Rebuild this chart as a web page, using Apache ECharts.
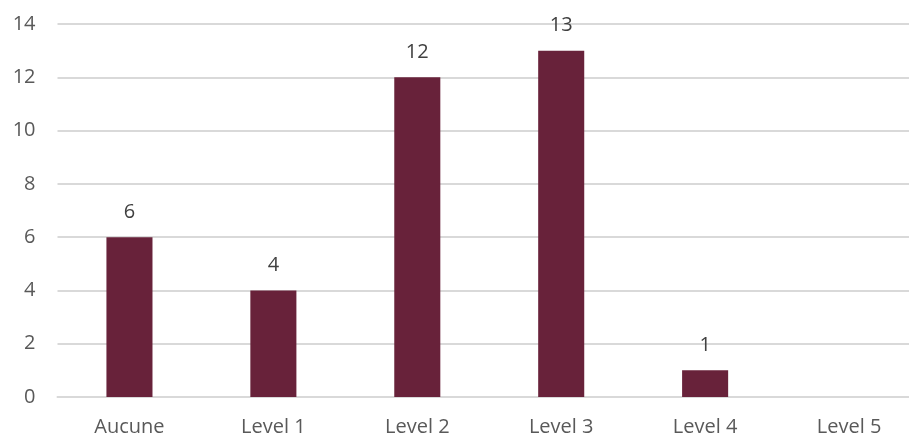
<!DOCTYPE html>
<html><head><meta charset="utf-8">
<script src="https://cdn.jsdelivr.net/npm/echarts@6/dist/echarts.min.js"></script>
<style>html,body{margin:0;padding:0;background:#fff;overflow:hidden;width:909px;height:440px}#c{width:921px;height:440px}</style>
</head><body><div id="c"></div>
<script>
const categories = ['Aucune', 'Level 1', 'Level 2', 'Level 3', 'Level 4', 'Level 5'];
const values = [6, 4, 12, 13, 1, 0];
const yTicks = [0, 2, 4, 6, 8, 10, 12, 14];

const font = 'Open Sans';
const chart = echarts.init(document.getElementById('c'));
chart.setOption({
  animation: false,
  grid: { left: 57.5, right: 0, top: 24, bottom: 43, containLabel: false, outerBoundsMode: 'none' },
  xAxis: {
    type: 'category', data: categories,
    axisLine: { lineStyle: { color: '#d9d9d9', width: 2 } },
    axisTick: { show: false },
    axisLabel: { color: '#595959', fontSize: 20, fontFamily: font, margin: 20 }
  },
  yAxis: {
    type: 'value', min: yTicks[0], max: yTicks[yTicks.length - 1], interval: 2,
    axisLine: { show: false }, axisTick: { show: false },
    splitLine: { lineStyle: { color: '#d9d9d9', width: 2 } },
    axisLabel: { color: '#595959', fontSize: 20, fontFamily: font, margin: 22 }
  },
  series: [{
    type: 'bar', data: values.map(v => v === 0 ? null : v), barWidth: '32%',
    itemStyle: { color: '#68223a' },
    label: { show: true, position: 'top', distance: 15, color: '#404040', fontSize: 20, fontFamily: font }
  }]
});
</script></body></html>
